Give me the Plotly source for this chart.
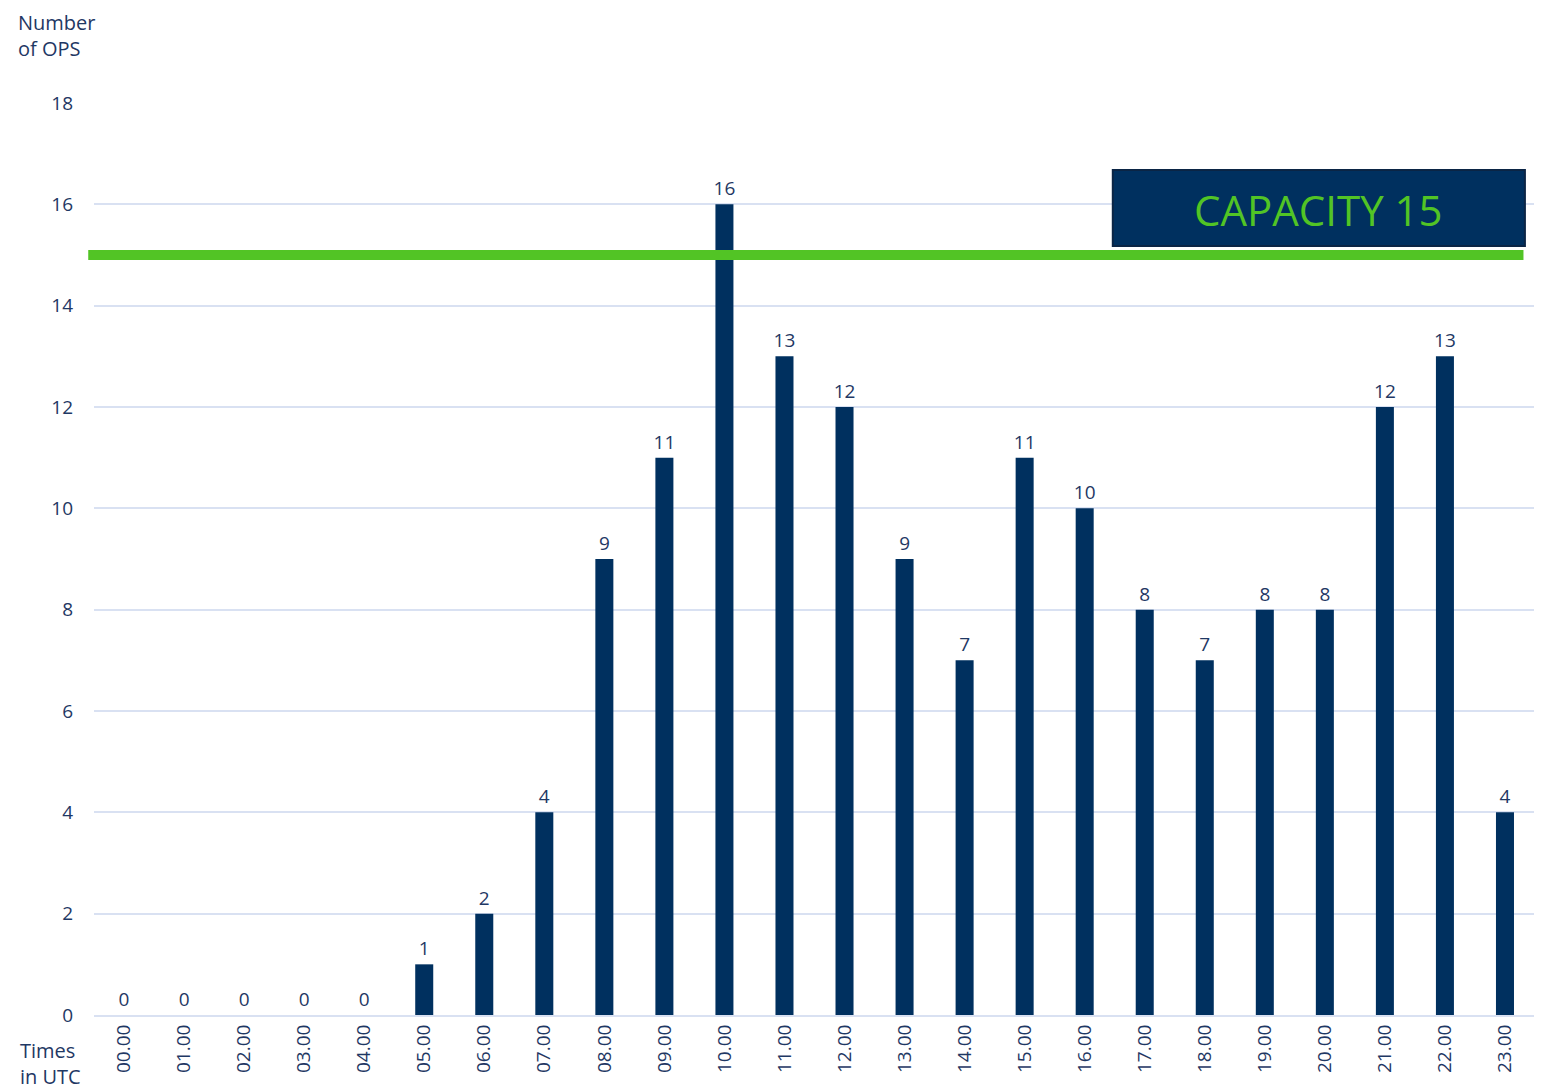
import plotly.graph_objects as go

# Hourly operations
hours = ['00.00', '01.00', '02.00', '03.00', '04.00', '05.00', '06.00', '07.00',
         '08.00', '09.00', '10.00', '11.00', '12.00', '13.00', '14.00', '15.00',
         '16.00', '17.00', '18.00', '19.00', '20.00', '21.00', '22.00', '23.00']
ops = [0, 0, 0, 0, 0, 1, 2, 4, 9, 11, 16, 13, 12, 9, 7, 11, 10, 8, 7, 8, 8, 12, 13, 4]
capacity = 15

navy = '#00305f'
text_col = '#1f3864'
green = '#52c425'
font = 'Open Sans'

fig = go.Figure()
fig.add_trace(go.Bar(
    x=hours, y=ops, marker=dict(color=navy, line=dict(width=0)),
    text=[str(v) for v in ops], textposition='outside', constraintext='none',
    textfont=dict(family=font, size=19, color=text_col),
    cliponaxis=False, width=0.3,
))

# capacity line
fig.add_shape(type='line', xref='paper', yref='y', x0=-0.004, x1=0.992,
              y0=capacity, y1=capacity, line=dict(color=green, width=10))

# capacity label box
fig.add_shape(type='rect', xref='paper', yref='y', x0=0.707, x1=0.993,
              y0=15.18, y1=16.68, fillcolor=navy, line=dict(color='#0b2545', width=2))
fig.add_annotation(xref='paper', yref='y', x=0.85, y=15.9, xanchor='center', yanchor='middle',
                   text='CAPACITY ' + str(capacity), showarrow=False,
                   font=dict(family=font, size=42, color=green))

# axis captions
fig.add_annotation(xref='paper', yref='paper', x=-0.054, y=1.074, xanchor='left', yanchor='middle',
                   text='Number<br>of OPS', showarrow=False, align='left',
                   font=dict(family=font, size=20, color=text_col))
fig.add_annotation(xref='paper', yref='paper', x=-0.053, y=-0.053, xanchor='left', yanchor='middle',
                   text='Times<br>in UTC', showarrow=False, align='left',
                   font=dict(family=font, size=20, color=text_col))

# page body adds ~8px offset, so size the figure to leave room for it
fig.update_layout(
    width=1534, height=1084,
    margin=dict(l=86, r=7, t=95, b=77),
    plot_bgcolor='white', paper_bgcolor='white',
    showlegend=False,
    font=dict(family=font, size=19, color=text_col),
    xaxis=dict(tickangle=-90, showgrid=False, showline=True, linecolor='#d9e1f2',
               linewidth=2, tickfont=dict(size=19, color=text_col), ticks=''),
    yaxis=dict(range=[0, 18], dtick=2, showgrid=True, gridcolor='#d9e1f2', gridwidth=2,
               zeroline=False, tickfont=dict(size=19, color=text_col), ticks='',
               ticklabelstandoff=20),
)

fig.write_html('out.html')
